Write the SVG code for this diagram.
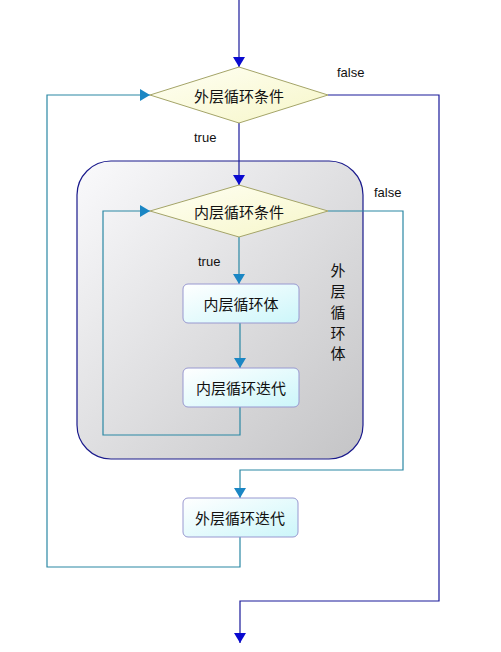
<svg xmlns="http://www.w3.org/2000/svg" width="501" height="652" viewBox="0 0 501 652">
<defs>
<linearGradient id="gCont" x1="0" y1="0" x2="1" y2="1">
<stop offset="0" stop-color="#fafafc"/>
<stop offset="1" stop-color="#c4c4c6"/>
</linearGradient>
<linearGradient id="gDia" x1="0" y1="0" x2="1" y2="1">
<stop offset="0" stop-color="#fffff4"/>
<stop offset="1" stop-color="#f6f6c8"/>
</linearGradient>
<linearGradient id="gBox" x1="0" y1="0" x2="1" y2="1">
<stop offset="0" stop-color="#ffffff"/>
<stop offset="1" stop-color="#ccf6fa"/>
</linearGradient>
<marker id="aDark" markerWidth="10" markerHeight="12" refX="10" refY="6" orient="auto" markerUnits="userSpaceOnUse">
<path d="M0,0 L10,6 L0,12 Z" fill="#0a0ad0"/>
</marker>
<marker id="aTeal" markerWidth="10" markerHeight="12" refX="10" refY="6" orient="auto" markerUnits="userSpaceOnUse">
<path d="M0,0 L10,6 L0,12 Z" fill="#1a86c4"/>
</marker>
</defs>
<style>
.dark{fill:none;stroke:#1a1a9a;stroke-width:1.2}
.teal{fill:none;stroke:#2a88a4;stroke-width:1.2}
.dia{fill:url(#gDia);stroke:#a4a468;stroke-width:1}
.box{fill:url(#gBox);stroke:#9898d0;stroke-width:1}
.lbl{font-family:"Noto Sans CJK SC","Liberation Sans",sans-serif;font-size:15px;fill:#111;text-anchor:middle;dominant-baseline:central}
.small{font-family:"Liberation Sans",Arial,sans-serif;font-size:13px;fill:#111}
</style>
<rect width="501" height="652" fill="#ffffff"/>
<g id="outerBody">
<rect x="77" y="161" width="286" height="298" rx="34" ry="34" fill="url(#gCont)" stroke="#1a1a8c" stroke-width="1.2"/>
<text class="lbl" x="338" y="269">外</text>
<text class="lbl" x="338" y="290">层</text>
<text class="lbl" x="338" y="311">循</text>
<text class="lbl" x="338" y="332">环</text>
<text class="lbl" x="338" y="352">体</text>
</g>
<g id="connectors">
<path class="dark" d="M239,0 L239,67" marker-end="url(#aDark)"/>
<path class="dark" d="M328,95 L439,95 L439,601 L240,601 L240,643" marker-end="url(#aDark)"/>
<path class="dark" d="M239,123 L239,185" marker-end="url(#aDark)"/>
<path class="teal" d="M328,211 L403,211 L403,470 L240,470 L240,498" marker-end="url(#aTeal)"/>
<path class="teal" d="M239,237 L239,284" marker-end="url(#aTeal)"/>
<path class="teal" d="M240,323 L240,368" marker-end="url(#aTeal)"/>
<path class="teal" d="M240,407 L240,435 L103,435 L103,211 L150,211" marker-end="url(#aTeal)"/>
<path class="teal" d="M240,537 L240,567 L47,567 L47,95 L150,95" marker-end="url(#aTeal)"/>
<text class="small" x="337" y="77">false</text>
<text class="small" x="194" y="142">true</text>
<text class="small" x="374" y="197">false</text>
<text class="small" x="198" y="266">true</text>
</g>
<g id="outerCond">
<polygon class="dia" points="239,67 328,95 239,123 150,95"/>
<text class="lbl" x="239" y="95">外层循环条件</text>
</g>
<g id="innerCond">
<polygon class="dia" points="239,185 328,211 239,237 150,211"/>
<text class="lbl" x="239" y="211">内层循环条件</text>
</g>
<g id="innerBody">
<rect class="box" x="183" y="284" width="116" height="39" rx="5"/>
<text class="lbl" x="241" y="303">内层循环体</text>
</g>
<g id="innerIter">
<rect class="box" x="183" y="368" width="116" height="39" rx="5"/>
<text class="lbl" x="241" y="387">内层循环迭代</text>
</g>
<g id="outerIter">
<rect class="box" x="183" y="498" width="115" height="39" rx="5"/>
<text class="lbl" x="240" y="517">外层循环迭代</text>
</g>
</svg>
